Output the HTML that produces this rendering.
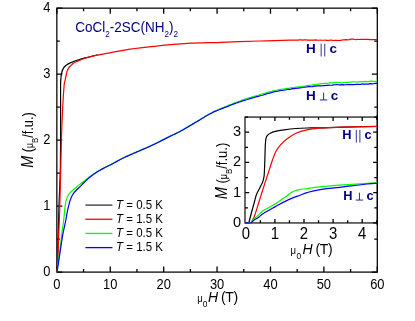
<!DOCTYPE html>
<html><head><meta charset="utf-8"><title>chart</title>
<style>
html,body{margin:0;padding:0;background:#fff;}
#c{position:relative;will-change:transform;width:415px;height:321px;overflow:hidden;background:#fff;font-family:'Liberation Sans',sans-serif;}
.t{position:absolute;white-space:nowrap;line-height:1;font-family:'Liberation Sans',sans-serif;}
.t sub{font-size:60%;vertical-align:baseline;position:relative;top:0.52em;line-height:0;}
.t .pp{font-weight:normal;}
.t .mu{font-size:76%;display:inline-block;transform:scaleX(0.9);transform-origin:100% 50%;margin-left:-0.05em;}
.t.r{transform:translate(0,0) rotate(-90deg);transform-origin:0 0;width:0;height:0;}
.t.r span{white-space:nowrap;}
.t.r>span{position:absolute;left:0;bottom:0;transform-origin:50% 0.8465em;display:block;line-height:1;}
.t .M{font-size:112%;}
</style></head><body>
<div id="c">
<svg width="415" height="321" viewBox="0 0 415 321" style="position:absolute;left:0;top:0">
<rect x="0" y="0" width="415" height="321" fill="#fff"/>
<path d="M56.85,272.10 v-5.50 M56.85,8.15 v5.50 M83.55,272.10 v-3.00 M83.55,8.15 v3.00 M110.26,272.10 v-5.50 M110.26,8.15 v5.50 M136.96,272.10 v-3.00 M136.96,8.15 v3.00 M163.67,272.10 v-5.50 M163.67,8.15 v5.50 M190.37,272.10 v-3.00 M190.37,8.15 v3.00 M217.07,272.10 v-5.50 M217.07,8.15 v5.50 M243.78,272.10 v-3.00 M243.78,8.15 v3.00 M270.48,272.10 v-5.50 M270.48,8.15 v5.50 M297.19,272.10 v-3.00 M297.19,8.15 v3.00 M323.89,272.10 v-5.50 M323.89,8.15 v5.50 M350.60,272.10 v-3.00 M350.60,8.15 v3.00 M377.30,272.10 v-5.50 M377.30,8.15 v5.50 M56.85,272.10 h5.50 M377.30,272.10 h-5.50 M56.85,239.11 h3.00 M377.30,239.11 h-3.00 M56.85,206.11 h5.50 M377.30,206.11 h-5.50 M56.85,173.12 h3.00 M377.30,173.12 h-3.00 M56.85,140.12 h5.50 M377.30,140.12 h-5.50 M56.85,107.13 h3.00 M377.30,107.13 h-3.00 M56.85,74.14 h5.50 M377.30,74.14 h-5.50 M56.85,41.14 h3.00 M377.30,41.14 h-3.00 M56.85,8.15 h5.50 M377.30,8.15 h-5.50" stroke="#000" stroke-width="1.3" fill="none"/>
<rect x="56.85" y="8.15" width="320.45" height="263.95" fill="none" stroke="#000" stroke-width="1.25"/>
<clipPath id="cm"><rect x="56.15" y="8.15" width="321.85" height="264.65"/></clipPath>
<g clip-path="url(#cm)">
<path d="M57.00,272.10 C57.08,270.53 57.17,273.77 57.50,262.70 C57.83,251.63 58.62,218.53 59.00,205.70 C59.38,192.87 59.57,192.37 59.80,185.70 C60.03,179.03 60.27,174.87 60.40,165.70 C60.53,156.53 60.57,141.53 60.60,130.70 C60.63,119.87 60.58,109.03 60.60,100.70 C60.62,92.37 60.48,85.48 60.70,80.70 C60.92,75.92 61.38,74.18 61.90,72.00 C62.42,69.82 63.07,68.75 63.80,67.60 C64.53,66.45 65.37,65.82 66.30,65.10 C67.23,64.38 68.37,63.82 69.40,63.30 C70.43,62.78 71.35,62.47 72.50,62.00 C73.65,61.53 74.20,61.18 76.30,60.50 C78.40,59.82 81.55,58.83 85.10,57.90 C88.65,56.97 95.52,55.40 97.60,54.90" stroke="#000" stroke-width="1.2" fill="none" stroke-linejoin="round" stroke-linecap="butt"/>
<path d="M57.00,272.10 C57.10,270.53 57.13,273.70 57.60,262.70 C58.07,251.70 59.17,226.53 59.80,206.10 C60.43,185.67 60.92,156.60 61.40,140.10 C61.88,123.60 62.25,116.18 62.70,107.10 C63.15,98.02 63.72,90.00 64.10,85.60 C64.48,81.20 64.63,82.55 65.00,80.70 C65.37,78.85 65.88,76.27 66.30,74.50 C66.72,72.73 66.98,71.35 67.50,70.10 C68.02,68.85 68.57,68.03 69.40,67.00 C70.23,65.97 71.35,64.77 72.50,63.90 C73.65,63.03 74.20,62.75 76.30,61.80 C78.40,60.85 81.55,59.32 85.10,58.20 C88.65,57.08 93.12,56.06 97.60,55.10 C102.08,54.14 106.60,53.44 112.00,52.45 C117.40,51.46 123.05,50.17 130.00,49.15 C136.95,48.13 144.12,47.31 153.70,46.35 C163.28,45.39 176.25,44.08 187.50,43.40 C198.75,42.72 209.12,42.70 221.20,42.30 C233.28,41.90 248.53,41.37 260.00,41.00 C271.47,40.63 285.00,40.25 290.00,40.10 L291.60,40.03 L293.20,40.10 L294.80,40.05 L296.40,40.10 L298.00,40.11 L299.60,39.93 L301.20,39.90 L302.80,40.16 L304.40,39.96 L306.00,39.94 L307.60,40.21 L309.20,40.01 L310.80,40.15 L312.40,40.00 L314.00,40.06 L315.60,39.87 L317.20,40.10 L318.80,40.24 L320.40,40.12 L322.00,40.25 L323.60,40.25 L325.20,39.99 L326.80,40.36 L328.40,40.31 L330.00,40.20 L331.60,40.05 L333.20,40.50 L334.80,40.29 L336.40,40.42 L338.00,40.52 L339.60,40.29 L341.20,40.28 L342.80,39.84 L344.40,39.96 L346.00,39.65 L347.60,39.87 L349.20,39.75 L350.80,39.15 L352.40,39.16 L354.00,39.21 L355.60,39.72 L357.20,39.36 L358.80,39.49 L360.40,39.25 L362.00,39.39 L363.60,39.29 L365.20,39.26 L366.80,39.43 L368.40,39.42 L370.00,39.66 L371.60,39.48 L373.20,39.67 L374.80,39.61 L376.40,39.71 L377.00,39.45" stroke="#f00" stroke-width="1.2" fill="none" stroke-linejoin="round" stroke-linecap="butt"/>
<path d="M57.00,272.10 L57.12,271.22 L57.26,270.14 L57.43,268.87 L57.61,267.45 L57.82,265.90 L58.04,264.25 L58.26,262.52 L58.50,260.76 L58.73,258.97 L58.96,257.19 L59.19,255.45 L59.41,253.77 L59.61,252.17 L59.80,250.70 L60.01,249.06 L60.21,247.43 L60.41,245.82 L60.60,244.23 L60.79,242.66 L60.97,241.11 L61.16,239.60 L61.33,238.13 L61.51,236.70 L61.68,235.31 L61.84,233.98 L62.00,232.70 L62.23,230.89 L62.46,229.20 L62.67,227.62 L62.88,226.12 L63.08,224.70 L63.26,223.33 L63.44,222.01 L63.60,220.70 L63.83,218.70 L64.02,216.83 L64.19,215.09 L64.34,213.45 L64.50,211.90 L64.67,210.15 L64.83,208.59 L64.99,207.11 L65.20,205.60 L65.44,204.04 L65.70,202.49 L66.03,200.95 L66.50,199.40 L67.05,197.86 L67.67,196.32 L68.49,194.77 L69.60,193.20 L70.55,192.14 L71.64,191.09 L72.84,190.03 L74.14,188.94 L75.50,187.84 L76.90,186.70 L77.99,185.81 L79.15,184.89 L80.35,183.96 L81.59,183.01 L82.84,182.06 L84.08,181.11 L85.31,180.19 L86.50,179.30 L87.84,178.30 L89.17,177.29 L90.50,176.30 L91.82,175.33 L93.11,174.40 L94.37,173.52 L95.60,172.70 L97.24,171.67 L98.81,170.76 L100.34,169.92 L101.86,169.11 L103.40,168.30 L104.96,167.49 L106.52,166.72 L108.09,165.96 L109.65,165.19 L111.20,164.40 L112.74,163.57 L114.28,162.73 L115.82,161.87 L117.36,161.03 L118.90,160.20 L120.37,159.43 L121.75,158.71 L123.18,157.98 L124.79,157.20 L126.70,156.30 L127.94,155.74 L129.30,155.13 L130.75,154.50 L132.27,153.84 L133.83,153.17 L135.41,152.49 L136.98,151.81 L138.52,151.15 L140.00,150.50 L141.41,149.89 L142.78,149.30 L144.11,148.73 L145.44,148.16 L146.78,147.58 L148.16,146.98 L149.59,146.34 L151.09,145.65 L152.70,144.90 L154.00,144.28 L155.39,143.60 L156.85,142.88 L158.36,142.12 L159.91,141.34 L161.46,140.56 L163.01,139.78 L164.53,139.01 L165.99,138.26 L167.39,137.56 L168.70,136.90 L169.90,136.30 L171.68,135.43 L173.17,134.72 L174.49,134.10 L175.74,133.52 L177.00,132.91 L178.39,132.21 L180.00,131.35 L181.14,130.72 L182.33,130.06 L183.56,129.36 L184.83,128.63 L186.14,127.87 L187.47,127.09 L188.84,126.29 L190.22,125.47 L191.63,124.64 L193.06,123.80 L194.50,122.95 L195.75,122.21 L197.04,121.43 L198.36,120.62 L199.71,119.79 L201.08,118.91 L202.46,118.13 L203.84,117.30 L205.22,116.45 L206.59,115.59 L207.94,114.82 L209.26,114.00 L210.55,113.36 L211.80,112.66 L213.35,111.83 L214.83,111.08 L216.27,110.53 L217.67,109.94 L219.05,109.21 L220.43,108.76 L221.83,108.13 L223.27,107.52 L224.75,106.95 L226.30,106.40 L227.64,105.87 L229.02,105.15 L230.43,104.68 L231.86,103.99 L233.30,103.54 L234.77,102.88 L236.24,102.41 L237.72,101.86 L239.20,101.20 L240.68,100.75 L242.15,100.07 L243.60,99.51 L245.05,99.13 L246.50,98.52 L247.95,98.08 L249.40,97.67 L250.85,97.28 L252.30,96.72 L253.75,96.26 L255.20,96.05 L256.65,95.49 L258.10,95.24 L259.55,94.82 L261.00,94.27 L262.56,93.84 L264.09,93.42 L265.61,93.02 L267.11,92.57 L268.62,92.14 L270.14,91.74 L271.69,91.43 L273.27,90.91 L274.89,90.50 L276.56,90.22 L278.30,89.72 L279.73,89.47 L281.24,89.43 L282.80,89.03 L284.40,88.80 L286.04,88.38 L287.70,88.29 L289.36,88.12 L291.01,87.71 L292.64,87.71 L294.23,87.51 L295.78,87.10 L297.27,87.12 L298.68,86.87 L300.00,86.77 L301.90,86.37 L303.67,86.25 L305.31,86.02 L306.86,85.51 L308.34,85.31 L309.77,85.35 L311.17,85.27 L312.57,84.79 L314.00,84.68 L315.60,84.53 L317.14,84.22 L318.65,84.05 L320.12,83.85 L321.59,83.70 L323.05,83.64 L324.51,83.36 L326.00,83.24 L327.56,83.28 L329.21,82.79 L330.90,82.90 L332.56,82.84 L334.16,82.52 L335.63,82.38 L336.93,82.59 L338.00,82.27 L339.69,82.49 L341.00,82.87 L342.12,82.94 L343.44,82.51 L344.94,82.47 L346.56,82.30 L348.26,82.40 L350.00,82.07 L351.34,82.22 L352.72,81.80 L354.15,81.84 L355.62,81.97 L357.15,82.06 L358.72,81.78 L360.34,81.60 L362.00,81.49 L363.45,81.66 L365.05,81.41 L366.75,81.69 L368.50,81.64 L370.25,81.19 L371.94,81.18 L373.51,81.42 L374.91,81.27 L376.09,81.32 L377.00,81.01" stroke="#0f0" stroke-width="1.2" fill="none" stroke-linejoin="round" stroke-linecap="butt"/>
<path d="M57.00,272.10 L57.13,271.24 L57.30,270.16 L57.49,268.91 L57.70,267.49 L57.94,265.96 L58.19,264.32 L58.45,262.62 L58.72,260.88 L58.98,259.12 L59.25,257.39 L59.51,255.70 L59.76,254.09 L59.99,252.58 L60.20,251.20 L60.48,249.39 L60.75,247.62 L61.01,245.89 L61.27,244.20 L61.51,242.58 L61.75,241.03 L61.98,239.56 L62.20,238.17 L62.40,236.88 L62.60,235.70 L63.01,233.38 L63.34,231.73 L63.65,230.32 L64.00,228.70 L64.32,227.18 L64.66,225.61 L65.01,224.01 L65.36,222.37 L65.70,220.70 L66.03,218.95 L66.36,217.12 L66.68,215.28 L66.99,213.51 L67.30,211.90 L67.65,210.15 L67.99,208.59 L68.33,207.11 L68.70,205.60 L69.09,204.04 L69.49,202.49 L69.94,200.95 L70.50,199.40 L71.13,197.85 L71.83,196.31 L72.66,194.76 L73.70,193.20 L74.70,191.97 L75.84,190.77 L77.08,189.55 L78.41,188.27 L79.80,186.90 L80.84,185.83 L81.95,184.68 L83.11,183.49 L84.29,182.28 L85.47,181.09 L86.65,179.95 L87.80,178.90 L89.11,177.77 L90.41,176.70 L91.71,175.68 L93.01,174.71 L94.30,173.79 L95.60,172.90 L96.90,172.06 L98.20,171.27 L99.50,170.52 L100.80,169.80 L102.10,169.10 L103.40,168.40 L104.96,167.59 L106.52,166.81 L108.09,166.05 L109.65,165.29 L111.20,164.50 L112.74,163.67 L114.28,162.83 L115.82,161.97 L117.36,161.13 L118.90,160.30 L120.37,159.53 L121.75,158.81 L123.18,158.08 L124.79,157.30 L126.70,156.40 L127.94,155.84 L129.30,155.23 L130.75,154.60 L132.27,153.94 L133.83,153.27 L135.41,152.59 L136.98,151.91 L138.52,151.25 L140.00,150.60 L141.41,149.99 L142.78,149.40 L144.11,148.83 L145.44,148.26 L146.78,147.68 L148.16,147.08 L149.59,146.44 L151.09,145.75 L152.70,145.00 L154.00,144.38 L155.39,143.70 L156.85,142.98 L158.36,142.22 L159.91,141.44 L161.46,140.66 L163.01,139.88 L164.53,139.11 L165.99,138.36 L167.39,137.66 L168.70,137.00 L169.90,136.40 L171.68,135.53 L173.17,134.82 L174.49,134.20 L175.74,133.62 L177.00,133.01 L178.39,132.31 L180.00,131.45 L181.14,130.82 L182.33,130.16 L183.56,129.45 L184.83,128.72 L186.14,127.96 L187.47,127.18 L188.84,126.37 L190.22,125.56 L191.63,124.73 L193.06,123.89 L194.50,123.05 L195.75,122.32 L197.04,121.55 L198.36,120.75 L199.71,119.94 L201.08,119.07 L202.46,118.25 L203.84,117.47 L205.22,116.59 L206.59,115.80 L207.94,115.03 L209.26,114.29 L210.55,113.59 L211.80,113.01 L213.35,112.13 L214.83,111.41 L216.27,110.90 L217.67,110.29 L219.05,109.74 L220.43,109.10 L221.83,108.64 L223.27,108.09 L224.75,107.40 L226.30,106.89 L227.64,106.39 L229.02,105.83 L230.43,105.26 L231.86,104.68 L233.30,104.14 L234.77,103.58 L236.24,103.01 L237.72,102.58 L239.20,101.99 L240.68,101.59 L242.15,100.93 L243.60,100.64 L245.05,100.13 L246.50,99.73 L247.95,99.29 L249.40,98.87 L250.85,98.37 L252.30,97.82 L253.75,97.60 L255.20,97.05 L256.65,96.69 L258.10,96.39 L259.55,95.96 L261.00,95.53 L262.56,95.23 L264.09,94.70 L265.61,94.18 L267.11,93.71 L268.62,93.45 L270.14,92.91 L271.69,92.58 L273.27,92.04 L274.89,91.59 L276.56,91.32 L278.30,91.05 L279.73,90.57 L281.24,90.52 L282.80,90.31 L284.40,90.03 L286.04,89.80 L287.70,89.29 L289.36,89.28 L291.01,89.15 L292.64,88.66 L294.23,88.54 L295.78,88.34 L297.27,88.26 L298.68,88.04 L300.00,87.89 L301.90,87.76 L303.67,87.24 L305.31,87.05 L306.86,86.90 L308.34,86.72 L309.77,86.54 L311.17,86.77 L312.57,86.58 L314.00,86.13 L315.60,86.16 L317.14,85.96 L318.65,85.86 L320.12,85.78 L321.59,85.82 L323.05,85.71 L324.51,85.53 L326.00,85.36 L327.50,85.33 L329.00,85.13 L330.50,85.23 L332.00,85.21 L333.50,84.96 L335.00,84.74 L336.50,84.71 L338.00,84.74 L339.50,84.80 L341.00,84.86 L342.50,84.64 L344.00,84.83 L345.50,84.73 L347.00,84.62 L348.50,84.56 L350.00,84.60 L351.48,84.67 L352.93,84.48 L354.37,84.59 L355.81,84.42 L357.28,84.25 L358.79,84.35 L360.36,84.38 L362.00,83.96 L363.45,84.09 L365.05,84.01 L366.75,84.18 L368.50,84.12 L370.25,83.70 L371.94,83.91 L373.51,83.77 L374.91,83.37 L376.09,83.43 L377.00,83.17" stroke="#00f" stroke-width="1.2" fill="none" stroke-linejoin="round" stroke-linecap="butt"/>
</g>
<rect x="245.00" y="117.05" width="133.30" height="105.90" fill="#fff" stroke="none"/>
<path d="M260.35,222.95 v-2.80 M260.35,117.05 v2.80 M274.90,222.95 v-4.00 M274.90,117.05 v4.00 M289.45,222.95 v-2.80 M289.45,117.05 v2.80 M304.00,222.95 v-4.00 M304.00,117.05 v4.00 M318.55,222.95 v-2.80 M318.55,117.05 v2.80 M333.10,222.95 v-4.00 M333.10,117.05 v4.00 M347.65,222.95 v-2.80 M347.65,117.05 v2.80 M362.20,222.95 v-4.00 M362.20,117.05 v4.00 M376.75,222.95 v-2.80 M376.75,117.05 v2.80 M245.00,222.95 h4.20 M377.30,222.95 h-4.20 M245.00,207.82 h3.00 M377.30,207.82 h-3.00 M245.00,192.69 h4.20 M377.30,192.69 h-4.20 M245.00,177.56 h3.00 M377.30,177.56 h-3.00 M245.00,162.44 h4.20 M377.30,162.44 h-4.20 M245.00,147.31 h3.00 M377.30,147.31 h-3.00 M245.00,132.18 h4.20 M377.30,132.18 h-4.20 M245.00,117.05 h3.00 M377.30,117.05 h-3.00" stroke="#000" stroke-width="1.3" fill="none"/>
<rect x="245.00" y="117.05" width="132.30" height="105.90" fill="none" stroke="#000" stroke-width="1.15"/>
<path d="M377.30,115.05 V224.95" stroke="#000" stroke-width="1.25" fill="none"/>
<clipPath id="ci"><rect x="244.40" y="117.05" width="133.50" height="106.50"/></clipPath>
<g clip-path="url(#ci)">
<path d="M245.00,222.90 C245.60,222.90 247.87,223.30 248.60,222.90 C249.33,222.50 248.85,222.48 249.40,220.50 C249.95,218.52 251.05,214.13 251.90,211.00 C252.75,207.87 253.75,204.42 254.50,201.70 C255.25,198.98 255.50,197.03 256.40,194.70 C257.30,192.37 258.85,189.83 259.90,187.70 C260.95,185.57 262.00,183.85 262.70,181.90 C263.40,179.95 263.77,178.93 264.10,176.00 C264.43,173.07 264.55,167.80 264.70,164.30 C264.85,160.80 264.90,158.20 265.00,155.00 C265.10,151.80 265.15,147.80 265.30,145.10 C265.45,142.40 265.58,140.37 265.90,138.80 C266.22,137.23 266.47,136.63 267.20,135.70 C267.93,134.77 268.95,133.93 270.30,133.20 C271.65,132.47 273.00,131.87 275.30,131.30 C277.60,130.73 280.65,130.27 284.10,129.80 C287.55,129.33 292.18,128.80 296.00,128.50 C299.82,128.20 303.00,128.10 307.00,128.00 C311.00,127.90 313.97,128.05 320.00,127.90 C326.03,127.75 333.70,127.35 343.20,127.10 C352.70,126.85 371.37,126.52 377.00,126.40" stroke="#000" stroke-width="1.2" fill="none" stroke-linejoin="round" stroke-linecap="butt"/>
<path d="M245.00,222.90 C246.05,222.90 250.08,223.30 251.30,222.90 C252.52,222.50 251.75,221.70 252.30,220.50 C252.85,219.30 253.48,218.83 254.60,215.70 C255.72,212.57 257.53,206.37 259.00,201.70 C260.47,197.03 261.90,192.37 263.40,187.70 C264.90,183.03 266.53,178.18 268.00,173.70 C269.47,169.22 270.87,164.53 272.20,160.80 C273.53,157.07 274.65,153.92 276.00,151.30 C277.35,148.68 278.43,147.18 280.30,145.10 C282.17,143.02 284.58,140.77 287.20,138.80 C289.82,136.83 292.70,134.78 296.00,133.30 C299.30,131.82 303.15,130.75 307.00,129.90 C310.85,129.05 313.07,128.65 319.10,128.20 C325.13,127.75 333.55,127.48 343.20,127.20 C352.85,126.92 371.37,126.62 377.00,126.50" stroke="#f00" stroke-width="1.2" fill="none" stroke-linejoin="round" stroke-linecap="butt"/>
<path d="M245.00,222.90 C245.88,222.90 249.00,223.38 250.30,222.90 C251.60,222.42 251.37,221.38 252.80,220.00 C254.23,218.62 257.13,216.17 258.90,214.60 C260.67,213.03 260.72,212.35 263.40,210.60 C266.08,208.85 271.12,206.55 275.00,204.10 C278.88,201.65 283.97,197.85 286.70,195.90 C289.43,193.95 290.03,193.27 291.40,192.40 C292.77,191.53 293.47,191.17 294.90,190.70 C296.33,190.23 297.98,189.95 300.00,189.60 C302.02,189.25 303.82,189.05 307.00,188.60 C310.18,188.15 313.07,187.52 319.10,186.90 C325.13,186.28 335.17,185.50 343.20,184.90 C351.23,184.30 361.67,183.68 367.30,183.30 C372.93,182.92 375.38,182.72 377.00,182.60" stroke="#0f0" stroke-width="1.2" fill="none" stroke-linejoin="round" stroke-linecap="butt"/>
<path d="M245.00,222.90 C245.93,222.90 249.23,223.25 250.60,222.90 C251.97,222.55 251.80,221.80 253.20,220.80 C254.60,219.80 257.30,218.13 259.00,216.90 C260.70,215.67 260.73,215.07 263.40,213.40 C266.07,211.73 271.12,209.03 275.00,206.90 C278.88,204.77 282.53,202.55 286.70,200.60 C290.87,198.65 296.62,196.53 300.00,195.20 C303.38,193.87 303.82,193.50 307.00,192.60 C310.18,191.70 313.07,190.75 319.10,189.80 C325.13,188.85 335.17,187.87 343.20,186.90 C351.23,185.93 361.67,184.60 367.30,184.00 C372.93,183.40 375.38,183.42 377.00,183.30" stroke="#00f" stroke-width="1.2" fill="none" stroke-linejoin="round" stroke-linecap="butt"/>
</g>
<path d="M85.4,205.10 H112.4" stroke="#333" stroke-width="1.3"/>
<path d="M85.4,219.27 H112.4" stroke="#f00" stroke-width="1.3"/>
<path d="M85.4,233.44 H112.4" stroke="#0f0" stroke-width="1.3"/>
<path d="M85.4,247.61 H112.4" stroke="#00f" stroke-width="1.3"/>
<path d="M321.15,43.70 V56.50 M324.75,43.70 V56.50" stroke="#1c1c90" stroke-width="0.9" fill="none"/>
<path d="M319.90,99.95 H327.30 M323.60,99.95 V92.60" stroke="#1c1c90" stroke-width="0.95" fill="none"/>
<path d="M356.30,129.80 V142.60 M359.90,129.80 V142.60" stroke="#1c1c90" stroke-width="0.9" fill="none"/>
<path d="M355.75,200.05 H363.15 M359.45,200.05 V192.70" stroke="#1c1c90" stroke-width="0.95" fill="none"/>
</svg>
<div class="t" style="left:56.85px;top:278.78px;font-size:12.9px;color:#000;transform-origin:50% 0.8465em;transform:translate(-50%,0) scaleY(1.1);">0</div>
<div class="t" style="left:110.26px;top:278.78px;font-size:12.9px;color:#000;transform-origin:50% 0.8465em;transform:translate(-50%,0) scaleY(1.1);">10</div>
<div class="t" style="left:163.67px;top:278.78px;font-size:12.9px;color:#000;transform-origin:50% 0.8465em;transform:translate(-50%,0) scaleY(1.1);">20</div>
<div class="t" style="left:217.07px;top:278.78px;font-size:12.9px;color:#000;transform-origin:50% 0.8465em;transform:translate(-50%,0) scaleY(1.1);">30</div>
<div class="t" style="left:270.48px;top:278.78px;font-size:12.9px;color:#000;transform-origin:50% 0.8465em;transform:translate(-50%,0) scaleY(1.1);">40</div>
<div class="t" style="left:323.89px;top:278.78px;font-size:12.9px;color:#000;transform-origin:50% 0.8465em;transform:translate(-50%,0) scaleY(1.1);">50</div>
<div class="t" style="left:377.30px;top:278.78px;font-size:12.9px;color:#000;transform-origin:50% 0.8465em;transform:translate(-50%,0) scaleY(1.1);">60</div>
<div class="t" style="left:50.40px;top:266.08px;font-size:12.9px;color:#000;transform-origin:100% 0.8465em;transform:translate(-100%,0) scaleY(1.1);">0</div>
<div class="t" style="left:50.40px;top:200.09px;font-size:12.9px;color:#000;transform-origin:100% 0.8465em;transform:translate(-100%,0) scaleY(1.1);">1</div>
<div class="t" style="left:50.40px;top:134.11px;font-size:12.9px;color:#000;transform-origin:100% 0.8465em;transform:translate(-100%,0) scaleY(1.1);">2</div>
<div class="t" style="left:50.40px;top:68.12px;font-size:12.9px;color:#000;transform-origin:100% 0.8465em;transform:translate(-100%,0) scaleY(1.1);">3</div>
<div class="t" style="left:50.40px;top:2.13px;font-size:12.9px;color:#000;transform-origin:100% 0.8465em;transform:translate(-100%,0) scaleY(1.1);">4</div>
<div class="t" style="left:245.80px;top:227.49px;font-size:14.9px;color:#000;transform-origin:50% 0.8465em;transform:translate(-50%,0) scaleY(1.05);">0</div>
<div class="t" style="left:274.90px;top:227.49px;font-size:14.9px;color:#000;transform-origin:50% 0.8465em;transform:translate(-50%,0) scaleY(1.05);">1</div>
<div class="t" style="left:304.00px;top:227.49px;font-size:14.9px;color:#000;transform-origin:50% 0.8465em;transform:translate(-50%,0) scaleY(1.05);">2</div>
<div class="t" style="left:333.10px;top:227.49px;font-size:14.9px;color:#000;transform-origin:50% 0.8465em;transform:translate(-50%,0) scaleY(1.05);">3</div>
<div class="t" style="left:362.20px;top:227.49px;font-size:14.9px;color:#000;transform-origin:50% 0.8465em;transform:translate(-50%,0) scaleY(1.05);">4</div>
<div class="t" style="left:241.20px;top:214.99px;font-size:14.6px;color:#000;transform-origin:100% 0.8465em;transform:translate(-100%,0) scaleY(0.98);">0</div>
<div class="t" style="left:241.20px;top:184.73px;font-size:14.6px;color:#000;transform-origin:100% 0.8465em;transform:translate(-100%,0) scaleY(0.98);">1</div>
<div class="t" style="left:241.20px;top:154.48px;font-size:14.6px;color:#000;transform-origin:100% 0.8465em;transform:translate(-100%,0) scaleY(0.98);">2</div>
<div class="t" style="left:241.20px;top:124.22px;font-size:14.6px;color:#000;transform-origin:100% 0.8465em;transform:translate(-100%,0) scaleY(0.98);">3</div>
<div class="t" style="left:116.00px;top:199.77px;font-size:11.5px;color:#000;transform-origin:0 0.8465em;transform:translate(0,0) scaleY(1.14);"><i>T</i> = 0.5 K</div>
<div class="t" style="left:116.00px;top:213.94px;font-size:11.5px;color:#000;transform-origin:0 0.8465em;transform:translate(0,0) scaleY(1.14);"><i>T</i> = 1.5 K</div>
<div class="t" style="left:116.00px;top:228.11px;font-size:11.5px;color:#000;transform-origin:0 0.8465em;transform:translate(0,0) scaleY(1.14);"><i>T</i> = 0.5 K</div>
<div class="t" style="left:116.00px;top:242.28px;font-size:11.5px;color:#000;transform-origin:0 0.8465em;transform:translate(0,0) scaleY(1.14);"><i>T</i> = 1.5 K</div>
<div class="t" style="left:75.20px;top:20.87px;font-size:13.5px;color:#000080;transform-origin:0 0.8465em;transform:translate(0,0) scaleY(1.14);">CoCl<sub>2</sub>-2SC(NH<sub>2</sub>)<sub>2</sub></div>
<div class="t" style="left:305.91px;top:42.47px;font-size:13.5px;color:#00007f;transform-origin:0 0.8465em;transform:translate(0,0) scaleY(1.0);"><b>H</b></div>
<div class="t" style="left:329.59px;top:42.47px;font-size:13.5px;color:#00007f;transform-origin:0 0.8465em;transform:translate(0,0) scaleY(1.0);"><b>c</b></div>
<div class="t" style="left:305.91px;top:88.97px;font-size:13.5px;color:#00007f;transform-origin:0 0.8465em;transform:translate(0,0) scaleY(1.0);"><b>H</b></div>
<div class="t" style="left:330.69px;top:88.97px;font-size:13.5px;color:#00007f;transform-origin:0 0.8465em;transform:translate(0,0) scaleY(1.0);"><b>c</b></div>
<div class="t" style="left:342.17px;top:129.16px;font-size:12.8px;color:#00007f;transform-origin:0 0.8465em;transform:translate(0,0) scaleY(1.0);"><b>H</b></div>
<div class="t" style="left:364.42px;top:129.16px;font-size:12.8px;color:#00007f;transform-origin:0 0.8465em;transform:translate(0,0) scaleY(1.0);"><b>c</b></div>
<div class="t" style="left:343.27px;top:189.66px;font-size:12.8px;color:#00007f;transform-origin:0 0.8465em;transform:translate(0,0) scaleY(1.0);"><b>H</b></div>
<div class="t" style="left:366.62px;top:189.66px;font-size:12.8px;color:#00007f;transform-origin:0 0.8465em;transform:translate(0,0) scaleY(1.0);"><b>c</b></div>
<div class="t" style="left:217.50px;top:290.45px;font-size:14.0px;color:#000;transform-origin:50% 0.8465em;transform:translate(-50%,0) scaleY(1.0);"><span class="mu">&#956;</span><sub style="margin-right:0.6px">0</sub><i>H</i><span style="margin-left:-0.6px;letter-spacing:-0.4px"> (T)</span></div>
<div class="t" style="left:311.10px;top:242.15px;font-size:14.0px;color:#000;transform-origin:50% 0.8465em;transform:translate(-50%,0) scaleY(1.0);"><span class="mu" style="margin-right:1.0px">&#956;</span><sub style="margin-right:1.4px">0</sub><i>H</i><span style="margin-left:-0.6px;letter-spacing:-0.4px"> (T)</span></div>
<div class="t r" style="left:34.40px;top:140.00px;font-size:14.0px;"><span style="transform:translate(-50%,0.1535em) scaleX(0.915);"><i class="M">M</i> (<span class="mu">&#956;</span><sub>B</sub>/f.u.)</span></div>
<div class="t r" style="left:227.60px;top:171.30px;font-size:14.0px;"><span style="transform:translate(-50%,0.1535em) scaleX(0.932);"><i class="M">M</i> (<span class="mu">&#956;</span><sub>B</sub>/f.u.)</span></div>
</div>
</body></html>
